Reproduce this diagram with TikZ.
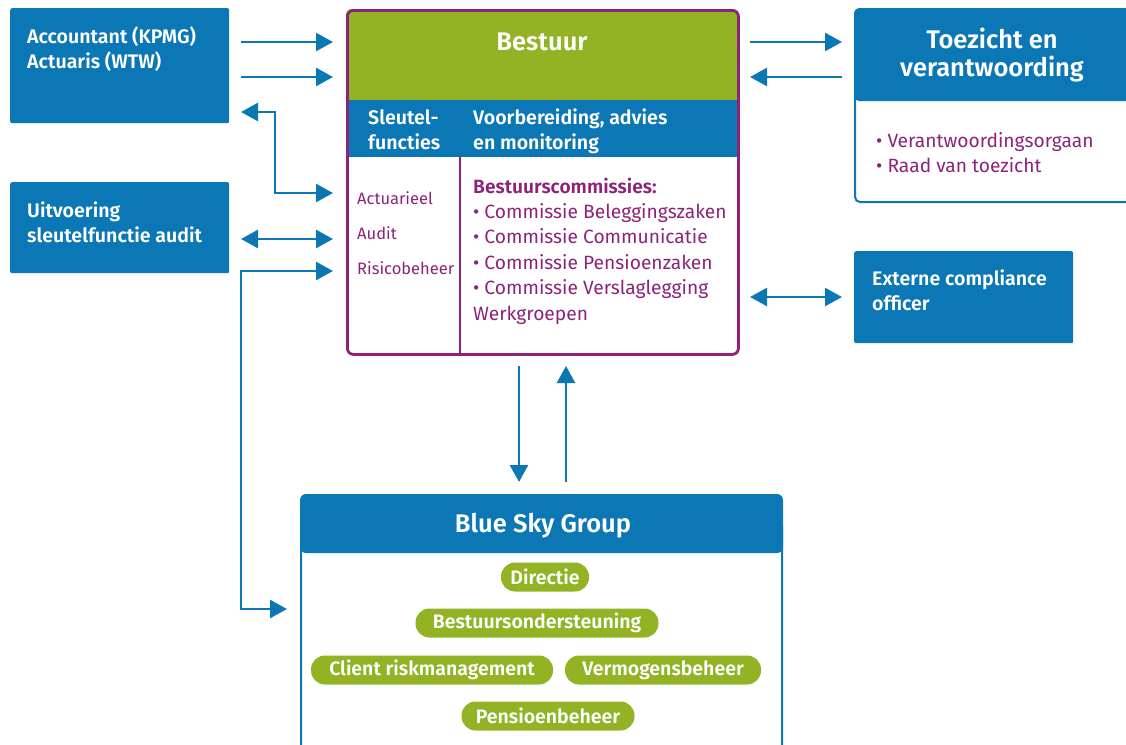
\documentclass[tikz,border=0pt]{standalone}
\usepackage{fontspec}
\setmainfont{Fira Sans}[BoldFont={Fira Sans SemiBold}]
\usetikzlibrary{arrows.meta}
\definecolor{bsblue}{HTML}{0B77B5}
\definecolor{bsgreen}{HTML}{93B325}
\definecolor{bspurple}{HTML}{8C2279}
\begin{document}
\begin{tikzpicture}[x=1pt,y=-1pt,
 box/.style={fill=bsblue, draw=none, rounded corners=2pt, anchor=north west, inner sep=0pt},
 wtxt/.style={text=white, font=\bfseries\fontsize{19.6}{22}\selectfont, anchor=base west, inner sep=0pt},
 ptxt/.style={text=bspurple, font=\fontsize{19.2}{22}\selectfont, anchor=base west, inner sep=0pt},
 pbtxt/.style={text=bspurple, font=\bfseries\fontsize{19.2}{22}\selectfont, anchor=base west, inner sep=0pt},
 stxt/.style={text=bspurple, font=\fontsize{16.5}{19}\selectfont, anchor=base west, inner sep=0pt},
 ttl/.style={text=white, font=\bfseries\fontsize{25.5}{29}\selectfont, anchor=base, inner sep=0pt},
 pill/.style={fill=bsgreen, rounded corners=14pt, minimum height=29pt, text=white, font=\bfseries\fontsize{19.5}{22}\selectfont, inner sep=0pt},
 arr/.style={draw=bsblue, line width=2.6pt, -{Triangle[length=17pt,width=18pt]}},
 darr/.style={draw=bsblue, line width=2.6pt, {Triangle[length=17pt,width=18pt]}-{Triangle[length=17pt,width=18pt]}},
]
\useasboundingbox (0,0) rectangle (1126,744);

% ---- left boxes
\node[box, minimum width=219pt, minimum height=115pt] (acc) at (10,8) {};
\node[wtxt] (acc1) at (27,43) {Accountant (KPMG)};
\node[wtxt] (acc2) at (27,68) {Actuaris (WTW)};
\node[box, minimum width=219pt, minimum height=91pt] (uit) at (10,182) {};
\node[wtxt] (uit1) at (27,217) {Uitvoering};
\node[wtxt] (uit2) at (27,242) {sleutelfunctie audit};

% ---- Bestuur
\begin{scope}
\clip[rounded corners=6pt] (346,9) rectangle (737,353);
\fill[bsgreen] (340,0) rectangle (745,100);
\fill[bsblue] (340,100) rectangle (745,157);
\end{scope}
\fill[bsblue] (737,100) rectangle (739,157);
\draw[bspurple, line width=2.8pt] (460,157) -- (460,353);
\node[draw=bspurple, line width=2.8pt, rounded corners=6pt, minimum width=391pt, minimum height=344pt, anchor=north west, inner sep=0pt] (bestuur) at (346,9) {};
\node[ttl] (bt) at (542,50) {Bestuur};
\node[wtxt] (sl1) at (368,124) {Sleutel-};
\node[wtxt] (sl2) at (368,149) {functies};
\node[wtxt] (vb1) at (473,124) {Voorbereiding, advies};
\node[wtxt] (vb2) at (473,149) {en monitoring};
\node[stxt] (s1) at (357,204) {Actuarieel};
\node[stxt] (s2) at (357,239) {Audit};
\node[stxt] (s3) at (357,274) {Risicobeheer};
\node[pbtxt] (c0) at (473,193) {Bestuurscommissies:};
\node[ptxt] (c1) at (473,218) {• Commissie Beleggingszaken};
\node[ptxt] (c2) at (473,243) {• Commissie Communicatie};
\node[ptxt] (c3) at (473,269) {• Commissie Pensioenzaken};
\node[ptxt] (c4) at (473,294) {• Commissie Verslaglegging};
\node[ptxt] (c5) at (473,320) {Werkgroepen};

% ---- Toezicht
\draw[bsblue, line width=2pt, rounded corners=5pt, fill=white] (855,60) -- (855,202) -- (1140,202);
\fill[bsblue, rounded corners=5pt] (854,101) -- (854,8) -- (1140,8) -- (1140,101) -- cycle;
\node[inner sep=0pt, minimum width=1pt, anchor=north west] (toe) at (854,8) {};
\node[ttl] (t1) at (992,48) {Toezicht en};
\node[ttl] (t2) at (992,76) {verantwoording};
\node[ptxt] (t3) at (876,147) {• Verantwoordingsorgaan};
\node[ptxt] (t4) at (876,172) {• Raad van toezicht};

% ---- Externe compliance
\node[box, minimum width=219pt, minimum height=92pt] (ext) at (854,251) {};
\node[wtxt] (ext1) at (872,285) {Externe compliance};
\node[wtxt] (ext2) at (872,310) {officer};

% ---- Blue Sky Group
\draw[bsblue, line width=2pt, rounded corners=6pt] (301,520) rectangle (782,780);
\fill[bsblue, rounded corners=6pt] (300,553) -- (300,494) -- (783,494) -- (783,553) -- cycle;
\node[inner sep=0pt, minimum width=1pt, anchor=north west] (bsg) at (300,494) {};
\node[ttl] (bsgt) at (543,532) {Blue Sky Group};
\node[pill, minimum width=88pt] (p1) at (545,577) {Directie};
\node[pill, minimum width=243pt] (p2) at (537,623) {Bestuursondersteuning};
\node[pill, minimum width=242pt] (p3) at (432,670) {Client riskmanagement};
\node[pill, minimum width=196pt] (p4) at (663,670) {Vermogensbeheer};
\node[pill, minimum width=173pt] (p5) at (548,716) {Pensioenbeheer};

% ---- connector end points
\coordinate (a1s) at (241,42);  \coordinate (a1e) at (333,42);
\coordinate (a2s) at (241,77);  \coordinate (a2e) at (333,77);
\coordinate (e1a) at (241,112); \coordinate (e1b) at (333,193);
\coordinate (d1a) at (241,239); \coordinate (d1b) at (333,239);
\coordinate (e2a) at (333,271); \coordinate (e2b) at (287,609);
\coordinate (r1s) at (750,42);  \coordinate (r1e) at (842,42);
\coordinate (r2s) at (842,77);  \coordinate (r2e) at (750,77);
\coordinate (x1a) at (750,297); \coordinate (x1b) at (842,297);
\coordinate (v1s) at (519,366); \coordinate (v1e) at (519,482);
\coordinate (v2s) at (566,482); \coordinate (v2e) at (566,366);

\draw[arr] (a1s) -- (a1e);
\draw[arr] (a2s) -- (a2e);
\draw[darr] (e1a) -- ++(34,0) |- (e1b);
\draw[darr] (d1a) -- (d1b);
\draw[darr] (e2a) -- ++(-92,0) |- (e2b);
\draw[arr] (r1s) -- (r1e);
\draw[arr] (r2s) -- (r2e);
\draw[darr] (x1a) -- (x1b);
\draw[arr] (v1s) -- (v1e);
\draw[arr] (v2s) -- (v2e);
\end{tikzpicture}
\end{document}
